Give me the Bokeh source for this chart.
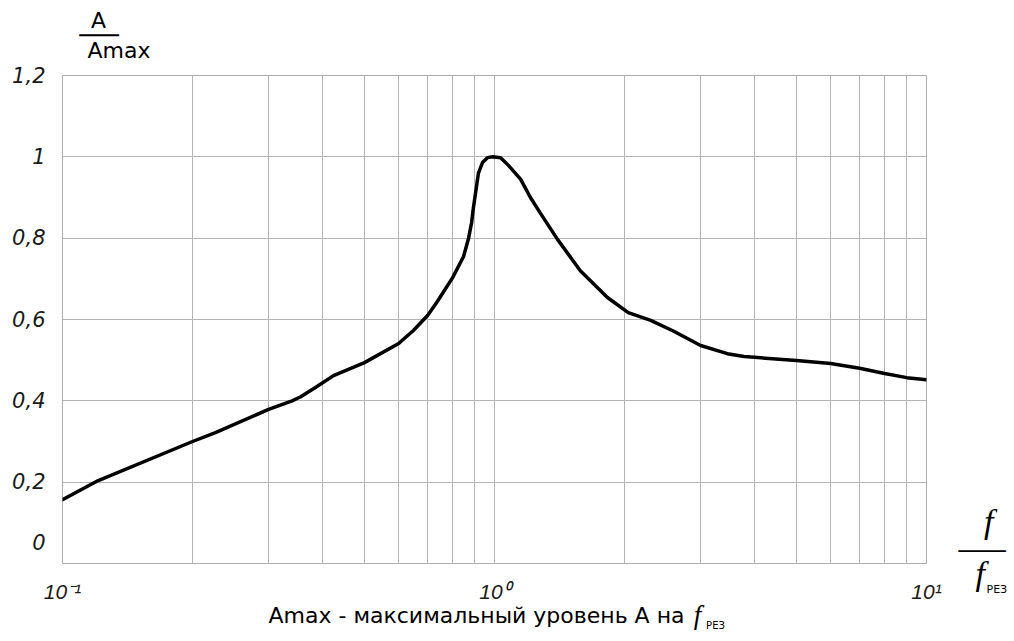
from bokeh.plotting import figure
from bokeh.models import FixedTicker, Range1d, LinearScale, LinearAxis
from bokeh.embed import file_html
from bokeh.resources import INLINE

# ---- data ----
freq_ratio = [0.1, 0.121, 0.2, 0.226, 0.3, 0.34, 0.356, 0.385, 0.424, 0.5, 0.6, 0.649,
              0.7, 0.738, 0.8, 0.848, 0.871, 0.885, 0.894, 0.908, 0.918, 0.938, 0.963, 0.989,
              1.033, 1.077, 1.149, 1.211, 1.278, 1.399, 1.58, 1.826, 2.04, 2.3, 2.6, 3.0, 3.46,
              3.78, 4.0, 5.0, 6.0, 7.0, 8.0, 9.0, 10.0]
amp_ratio = [0.157, 0.204, 0.300, 0.322, 0.379, 0.400, 0.410, 0.433, 0.462, 0.494, 0.541, 0.573,
             0.610, 0.645, 0.703, 0.755, 0.800, 0.838, 0.876, 0.925, 0.960, 0.986, 0.998, 1.000,
             0.998, 0.979, 0.945, 0.900, 0.861, 0.797, 0.720, 0.654, 0.617, 0.598, 0.571, 0.536, 0.516,
             0.509, 0.507, 0.499, 0.492, 0.480, 0.467, 0.457, 0.452]

x_ticks = [0.1, 1.0, 10.0]
x_tick_labels = ["10⁻¹", "10⁰", "10¹"]
x_grid = [0.2, 0.3, 0.4, 0.5, 0.6, 0.7, 0.8, 0.9, 1.0, 2.0, 3.0, 4.0, 5.0, 6.0, 7.0, 8.0, 9.0]
y_ticks = [0, 0.2, 0.4, 0.6, 0.8, 1.0, 1.2]
y_tick_labels = ["0", "0,2", "0,4", "0,6", "0,8", "1", "1,2"]

y_title = ["A", "───", "Amax"]
x_title = ["f", "—–", "f", "РЕЗ"]
note_text = ["Amax - максимальный уровень А на", "f", "РЕЗ"]

# ---- layout constants (pixels) ----
W, H = 1012, 639
F_LEFT, F_RIGHT, F_TOP, F_BOTTOM = 62, 926, 75, 563
NBSP = "\u00a0"

p = figure(width=W, height=H, x_axis_type="log", x_range=(0.1, 10), y_range=(0, 1.2),
           output_backend="svg", toolbar_location=None,
           min_border_left=F_LEFT, min_border_right=W - F_RIGHT,
           min_border_top=F_TOP, min_border_bottom=H - F_BOTTOM)
p.background_fill_color = "white"
p.border_fill_color = "white"
p.outline_line_color = "#acacac"
p.outline_line_width = 1

# pixel-based helper ranges, used only to position the title texts
p.extra_x_ranges = {"px": Range1d(F_LEFT, F_RIGHT)}
p.extra_x_scales = {"px": LinearScale()}
p.extra_y_ranges = {"py": Range1d(-F_BOTTOM, -F_TOP)}
p.extra_y_scales = {"py": LinearScale()}

grid_col = "#b4b4b4"
p.xgrid.ticker = FixedTicker(ticks=x_grid)
p.ygrid.ticker = FixedTicker(ticks=y_ticks)
p.xgrid.grid_line_color = grid_col
p.ygrid.grid_line_color = grid_col


def plain(ax):
    ax.axis_line_color = None
    ax.major_tick_line_color = None
    ax.minor_tick_line_color = None
    ax.major_tick_out = 0
    ax.major_tick_in = 0
    ax.minor_tick_out = 0
    ax.minor_tick_in = 0


for ax in (p.xaxis[0], p.yaxis[0]):
    plain(ax)
    ax.major_label_text_font_style = "italic"
    ax.major_label_text_color = "#1a1a1a"

p.xaxis.ticker = FixedTicker(ticks=x_ticks)
p.xaxis.major_label_overrides = {t: s for t, s in zip(x_ticks, x_tick_labels)}
p.xaxis.major_label_standoff = 16
p.xaxis.major_label_text_font = "Liberation Sans"
p.xaxis.major_label_text_font_size = "21px"
p.yaxis.ticker = FixedTicker(ticks=y_ticks)
# the "0" label sits higher than its grid line in the original
p.yaxis.major_label_overrides = {t: (s + "\n" if t == 0 else s) for t, s in zip(y_ticks, y_tick_labels)}
p.yaxis.major_label_standoff = 17
p.yaxis.major_label_text_font = "DejaVu Sans"
p.yaxis.major_label_text_font_size = "21px"
p.yaxis.major_label_text_line_height = 1.7

p.line(freq_ratio, amp_ratio, line_width=3.5, line_color="black", line_join="round", line_cap="round")


def text_axis(side, ticks, labels, font, size, style, standoff, line_height=1.2):
    if side in ("above", "below"):
        ax = LinearAxis(x_range_name="px")
    else:
        ax = LinearAxis(y_range_name="py")
    plain(ax)
    ax.ticker = FixedTicker(ticks=ticks)
    ax.major_label_overrides = {t: s for t, s in zip(ticks, labels)}
    ax.major_label_text_font = font
    ax.major_label_text_font_size = size
    ax.major_label_text_font_style = style
    ax.major_label_text_color = "black"
    ax.major_label_text_line_height = line_height
    ax.major_label_standoff = standoff
    p.add_layout(ax, side)
    return ax


# y-axis title: A / Amax (above the frame, left)
text_axis("above", [98.0, 98.5, 118.5],
          [y_title[0] + "\n\n", y_title[1] + "\n", y_title[2]],
          "DejaVu Sans", "22px", "normal", 13, line_height=0.6)

# x-axis title on the right: f / f_РЕЗ
text_axis("right", [-547.0],
          [NBSP * 3 + x_title[0] + "\n" + x_title[1] + "\n" + NBSP * 2 + x_title[2]],
          "Liberation Serif", "34px", "italic", 32, line_height=0.70)
text_axis("right", [-562.0], ["\n\n\n" + x_title[3]],
          "DejaVu Sans", "11px", "normal", -22, line_height=1.4)

# bottom note
text_axis("below", [476.0], [note_text[0]], "DejaVu Sans", "22px", "normal", -3)
text_axis("below", [697.0], [note_text[1]], "Liberation Serif", "27px", "italic", -31)
text_axis("below", [715.0], [note_text[2]], "DejaVu Sans", "10px", "normal", -13)

open("out.html", "w").write(file_html(p, INLINE))
